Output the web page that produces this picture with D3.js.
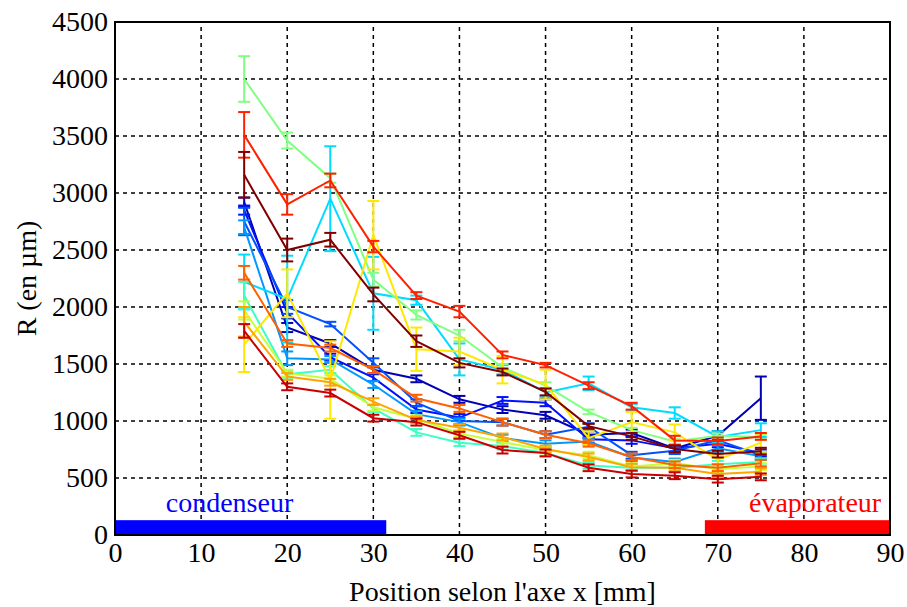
<!DOCTYPE html>
<html><head><meta charset="utf-8">
<script src="https://cdn.jsdelivr.net/npm/d3@7"></script>
<style>body{margin:0;background:#fff}svg{display:block}text{font-family:'Liberation Serif','Times New Roman',serif}</style>
</head><body>
<svg id="chart" width="907" height="607"></svg>
<script>
const positions = [15, 20, 25, 30, 35, 40, 45, 50, 55, 60, 65, 70, 75];
const xTicks = [0, 10, 20, 30, 40, 50, 60, 70, 80, 90];
const yTicks = [0, 500, 1000, 1500, 2000, 2500, 3000, 3500, 4000, 4500];
const seriesNames = ["s1","s2","s3","s4","s5","s6","s7","s8","s9","s10","s11","s12","s13","s14"];
const seriesColors = ["#0000b4","#0010ff","#0050ff","#0098ff","#00dcff","#3cffc4","#80ff80","#c4ff3c","#ffe800","#ffa400","#ff6000","#ff2000","#c80000","#800000"];
const s1  = [2920, 1820, 1680, 1450, 1370, 1190, 1100, 1050, 880, 895, 760, 870, 1200];
const s2  = [2850, 1950, 1560, 1380, 1100, 1030, 1180, 1160, 840, 830, 760, 800, 720];
const s3  = [2750, 2000, 1850, 1510, 1160, 1000, 990, 880, 950, 700, 740, 830, 700];
const s4  = [2700, 1550, 1540, 1320, 1060, 990, 850, 800, 820, 680, 640, 760, 690];
const s5  = [2220, 2070, 2950, 2120, 2060, 1540, 1450, 1250, 1330, 1120, 1070, 860, 920];
const s6  = [2100, 1410, 1450, 1110, 900, 810, 780, 720, 610, 590, 590, 620, 640];
const s7  = [4000, 3460, 3130, 2240, 1930, 1750, 1470, 1310, 1080, 920, 820, 870, 860];
const s8  = [1970, 1420, 1370, 1120, 1020, 890, 815, 745, 700, 600, 630, 580, 600];
const s9  = [1670, 2120, 1360, 2630, 1630, 1610, 1450, 1320, 850, 990, 900, 660, 810];
const s10 = [1870, 1390, 1340, 1170, 1010, 940, 860, 755, 685, 595, 590, 535, 555];
const s11 = [2300, 1680, 1640, 1450, 1200, 1110, 990, 880, 805, 685, 615, 590, 630];
const s12 = [3510, 2900, 3110, 2530, 2100, 1960, 1580, 1490, 1310, 1130, 830, 825, 865];
const s13 = [1790, 1300, 1245, 1025, 990, 875, 745, 720, 590, 535, 520, 490, 510];
const s14 = [3160, 2500, 2590, 2110, 1700, 1510, 1430, 1255, 955, 865, 755, 710, 735];
const e1  = [40, 40, 30, 30, 30, 30, 30, 30, 30, 30, 30, 40, 190];
const e2  = [40, 50, 30, 30, 30, 30, 30, 30, 30, 30, 30, 30, 30];
const e3  = [120, 60, 20, 40, 30, 30, 30, 30, 30, 30, 30, 30, 30];
const e4  = [60, 60, 30, 30, 30, 30, 30, 30, 30, 30, 30, 30, 30];
const e5  = [240, 380, 460, 320, 40, 140, 40, 40, 60, 30, 50, 50, 60];
const e6  = [120, 30, 30, 30, 30, 30, 30, 30, 30, 30, 30, 30, 30];
const e7  = [200, 70, 40, 60, 40, 50, 30, 30, 20, 20, 20, 20, 20];
const e8  = [80, 30, 30, 30, 30, 30, 30, 30, 30, 30, 30, 30, 30];
const e9  = [240, 210, 340, 300, 190, 120, 120, 130, 60, 90, 70, 40, 80];
const e10 = [130, 30, 30, 30, 30, 30, 30, 30, 30, 30, 30, 30, 30];
const e11 = [60, 30, 30, 30, 30, 30, 30, 30, 30, 30, 30, 30, 30];
const e12 = [200, 90, 60, 50, 30, 50, 30, 20, 30, 30, 40, 30, 30];
const e13 = [60, 30, 30, 30, 30, 30, 30, 30, 30, 30, 30, 30, 30];
const e14 = [200, 100, 60, 60, 50, 40, 30, 30, 20, 30, 30, 30, 30];
const seriesValues = [s1,s2,s3,s4,s5,s6,s7,s8,s9,s10,s11,s12,s13,s14];
const seriesErrors = [e1,e2,e3,e4,e5,e6,e7,e8,e9,e10,e11,e12,e13,e14];
const zoneLabels = ["condenseur", "évaporateur"];
const zoneStart = [0, 68.5];
const zoneEnd = [31.5, 90];
const zoneHeight = 130;
const zoneColors = ["#0000ff", "#ff0000"];
const zoneLabelX = [13.3, 81.3];

const svg = d3.select("#chart");
const m = {left:115, right:17, top:22, bottom:72};
const W = 907, H = 607;
const x = d3.scaleLinear().domain([0, 90]).range([m.left, W - m.right]);
const y = d3.scaleLinear().domain([0, 4500]).range([H - m.bottom, m.top]);
const font = "'Liberation Serif', 'Times New Roman', serif";
const fs = 28;

// grid
const g = svg.append("g");
g.selectAll(".vg").data(xTicks.slice(1, -1)).join("line")
  .attr("x1", d => x(d)).attr("x2", d => x(d)).attr("y1", y(0)).attr("y2", y(4500))
  .attr("stroke", "#000").attr("stroke-width", 1.5).attr("stroke-dasharray", "4,4");
g.selectAll(".hg").data(yTicks.slice(1, -1)).join("line")
  .attr("y1", d => y(d)).attr("y2", d => y(d)).attr("x1", x(0)).attr("x2", x(90))
  .attr("stroke", "#000").attr("stroke-width", 1.5).attr("stroke-dasharray", "4,4");

// zone bars
svg.selectAll(".zone").data(zoneLabels).join("rect")
  .attr("x", (d,i) => x(zoneStart[i])).attr("width", (d,i) => x(zoneEnd[i]) - x(zoneStart[i]))
  .attr("y", y(zoneHeight)).attr("height", y(0) - y(zoneHeight))
  .attr("fill", (d,i) => zoneColors[i]);
svg.selectAll(".zl").data(zoneLabels).join("text")
  .attr("x", (d,i) => x(zoneLabelX[i])).attr("y", y(0) - 23)
  .attr("text-anchor", "middle").style("font-family", font).attr("font-size", fs)
  .attr("fill", (d,i) => zoneColors[i]).text(d => d);

// series
const line = d3.line().x(d => x(d[0])).y(d => y(d[1]));
seriesValues.forEach((vals, si) => {
  const col = seriesColors[si];
  const pts = positions.map((p, i) => [p, vals[i], seriesErrors[si][i]]);
  const sg = svg.append("g");
  sg.append("path").datum(pts).attr("d", line).attr("fill", "none")
    .attr("stroke", col).attr("stroke-width", 2);
  sg.selectAll(".eb").data(pts).join("line")
    .attr("x1", d => x(d[0])).attr("x2", d => x(d[0]))
    .attr("y1", d => y(d[1] - d[2])).attr("y2", d => y(d[1] + d[2]))
    .attr("stroke", col).attr("stroke-width", 2);
  [-1, 1].forEach(s => {
    sg.selectAll(".cap" + s).data(pts).join("line")
      .attr("x1", d => x(d[0]) - 6).attr("x2", d => x(d[0]) + 6)
      .attr("y1", d => y(d[1] + s * d[2])).attr("y2", d => y(d[1] + s * d[2]))
      .attr("stroke", col).attr("stroke-width", 2);
  });
});

// frame
svg.append("rect").attr("x", x(0)).attr("y", y(4500)).attr("width", x(90) - x(0)).attr("height", y(0) - y(4500))
  .attr("fill", "none").attr("stroke", "#000").attr("stroke-width", 2);

// axes
const xa = svg.append("g").attr("transform", `translate(0,${y(0)})`)
  .call(d3.axisBottom(x).tickValues(xTicks).tickFormat(d3.format("d")).tickSize(0).tickPadding(6));
const ya = svg.append("g").attr("transform", `translate(${x(0)},0)`)
  .call(d3.axisLeft(y).tickValues(yTicks).tickFormat(d3.format("d")).tickSize(0).tickPadding(7));
[xa, ya].forEach(a => {
  a.attr("font-family", null).attr("font-size", null);
  a.select(".domain").remove();
  a.selectAll("text").style("font-family", font).attr("font-size", fs).attr("fill", "#000");
});
xa.selectAll("text").attr("dy", "0.75em");

svg.append("text").attr("x", (x(0) + x(90)) / 2).attr("y", 601)
  .attr("text-anchor", "middle").style("font-family", font).attr("font-size", fs).text("Position selon l'axe x [mm]");
svg.append("text").attr("transform", `translate(36,${(y(0) + y(4500)) / 2}) rotate(-90)`)
  .attr("text-anchor", "middle").style("font-family", font).attr("font-size", fs).text("R (en µm)");
</script>
</body></html>
